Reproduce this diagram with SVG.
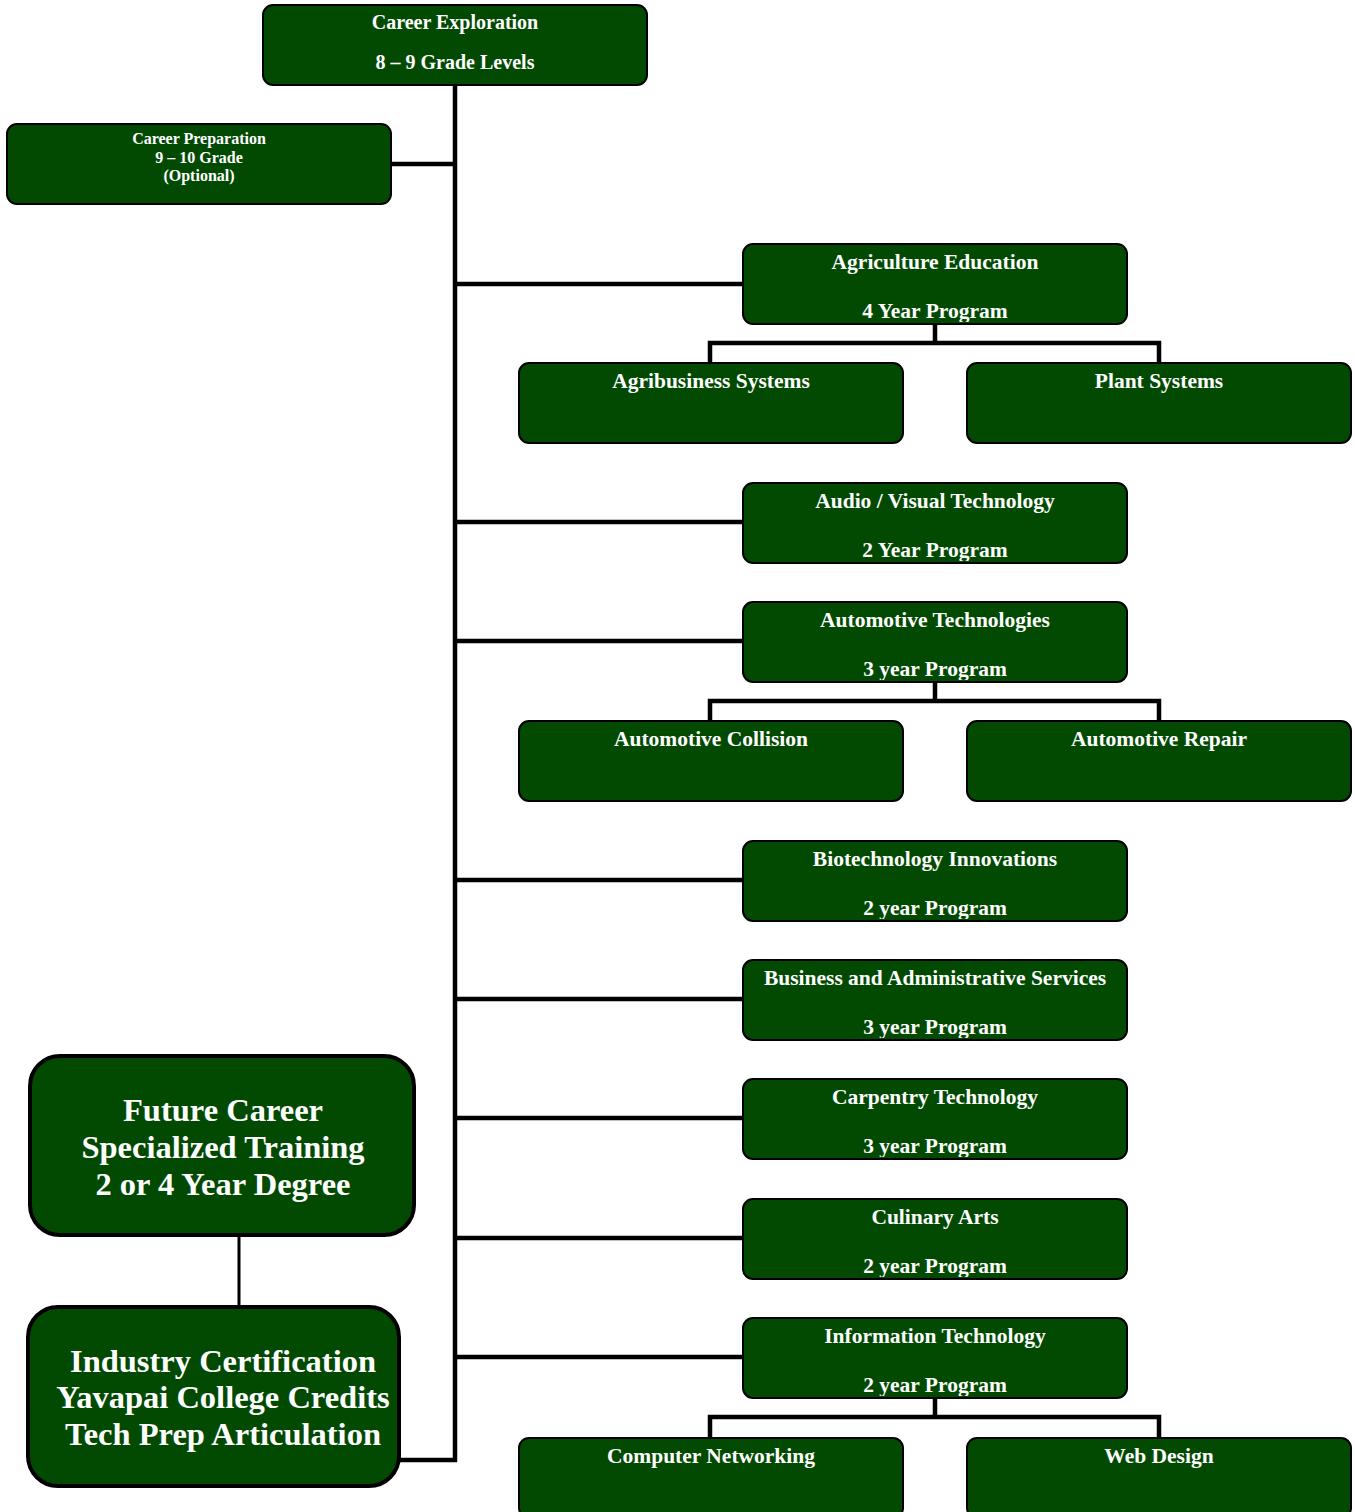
<svg xmlns="http://www.w3.org/2000/svg" width="1355" height="1512" viewBox="0 0 1355 1512">
<style>
.bx{fill:#024a02;stroke:#000;stroke-width:2}
.big{fill:#024a02;stroke:#000;stroke-width:4}
.t{font-family:"Liberation Serif","Times New Roman",serif;font-weight:bold;fill:#fff;text-anchor:middle}
.t20{font-size:20px}
.t21{font-size:21.5px}
.t16{font-size:16px}
.t32{font-size:32.5px}
.ln{stroke:#000;stroke-width:4.5;fill:none}
</style>
<defs>
<clipPath id="cp"><rect x="0" y="0" width="384" height="78"/></clipPath>
</defs>
<rect width="1355" height="1512" fill="#fff"/>
<g id="connectors">
<path class="ln" d="M455 85V1462M391 164H455M455 284H743M455 522H743M455 641H743M455 880H743M455 999H743M455 1118H743M455 1238H743M455 1357H743M399 1460H457"/>
<path class="ln" d="M935 324V343M710 363V343H1159V363"/>
<path class="ln" d="M935 682V701M710 721V701H1159V721"/>
<path class="ln" d="M935 1398V1417M710 1438V1417H1159V1438"/>
<path d="M239 1235V1306" stroke="#000" stroke-width="3"/>
</g>
<g id="career-exploration" transform="translate(263,5)">
<rect class="bx" x="0" y="0" width="384" height="80" rx="10"/>
<text class="t t20" x="192" y="24">Career Exploration</text>
<text class="t t20" x="192" y="64">8 – 9 Grade Levels</text>
</g>
<g id="career-preparation" transform="translate(7,124)">
<rect class="bx" x="0" y="0" width="384" height="80" rx="10"/>
<text class="t t16" x="192" y="20">Career Preparation</text>
<text class="t t16" x="192" y="38.5">9 – 10 Grade</text>
<text class="t t16" x="192" y="57">(Optional)</text>
</g>
<g id="agriculture-education" transform="translate(743,244)">
<rect class="bx" x="0" y="0" width="384" height="80" rx="10"/>
<text class="t t21" x="192" y="25">Agriculture Education</text>
<text class="t t21" x="192" y="74" clip-path="url(#cp)">4 Year Program</text>
</g>
<g id="agribusiness-systems" transform="translate(519,363)">
<rect class="bx" x="0" y="0" width="384" height="80" rx="10"/>
<text class="t t21" x="192" y="25">Agribusiness Systems</text>
</g>
<g id="plant-systems" transform="translate(967,363)">
<rect class="bx" x="0" y="0" width="384" height="80" rx="10"/>
<text class="t t21" x="192" y="25">Plant Systems</text>
</g>
<g id="audio-visual" transform="translate(743,483)">
<rect class="bx" x="0" y="0" width="384" height="80" rx="10"/>
<text class="t t21" x="192" y="25">Audio / Visual Technology</text>
<text class="t t21" x="192" y="74" clip-path="url(#cp)">2 Year Program</text>
</g>
<g id="automotive-technologies" transform="translate(743,602)">
<rect class="bx" x="0" y="0" width="384" height="80" rx="10"/>
<text class="t t21" x="192" y="25">Automotive Technologies</text>
<text class="t t21" x="192" y="74" clip-path="url(#cp)">3 year Program</text>
</g>
<g id="automotive-collision" transform="translate(519,721)">
<rect class="bx" x="0" y="0" width="384" height="80" rx="10"/>
<text class="t t21" x="192" y="25">Automotive Collision</text>
</g>
<g id="automotive-repair" transform="translate(967,721)">
<rect class="bx" x="0" y="0" width="384" height="80" rx="10"/>
<text class="t t21" x="192" y="25">Automotive Repair</text>
</g>
<g id="biotechnology" transform="translate(743,841)">
<rect class="bx" x="0" y="0" width="384" height="80" rx="10"/>
<text class="t t21" x="192" y="25">Biotechnology Innovations</text>
<text class="t t21" x="192" y="74" clip-path="url(#cp)">2 year Program</text>
</g>
<g id="business" transform="translate(743,960)">
<rect class="bx" x="0" y="0" width="384" height="80" rx="10"/>
<text class="t t21" x="192" y="25">Business and Administrative Services</text>
<text class="t t21" x="192" y="74" clip-path="url(#cp)">3 year Program</text>
</g>
<g id="carpentry" transform="translate(743,1079)">
<rect class="bx" x="0" y="0" width="384" height="80" rx="10"/>
<text class="t t21" x="192" y="25">Carpentry Technology</text>
<text class="t t21" x="192" y="74" clip-path="url(#cp)">3 year Program</text>
</g>
<g id="culinary" transform="translate(743,1199)">
<rect class="bx" x="0" y="0" width="384" height="80" rx="10"/>
<text class="t t21" x="192" y="25">Culinary Arts</text>
<text class="t t21" x="192" y="74" clip-path="url(#cp)">2 year Program</text>
</g>
<g id="information-technology" transform="translate(743,1318)">
<rect class="bx" x="0" y="0" width="384" height="80" rx="10"/>
<text class="t t21" x="192" y="25">Information Technology</text>
<text class="t t21" x="192" y="74" clip-path="url(#cp)">2 year Program</text>
</g>
<g id="computer-networking" transform="translate(519,1438)">
<rect class="bx" x="0" y="0" width="384" height="80" rx="10"/>
<text class="t t21" x="192" y="25">Computer Networking</text>
</g>
<g id="web-design" transform="translate(967,1438)">
<rect class="bx" x="0" y="0" width="384" height="80" rx="10"/>
<text class="t t21" x="192" y="25">Web Design</text>
</g>
<g id="future-career">
<rect class="big" x="30" y="1056" width="384" height="179" rx="30"/>
<text class="t t32" x="223" y="1121">Future Career</text>
<text class="t t32" x="223" y="1158">Specialized Training</text>
<text class="t t32" x="223" y="1195">2 or 4 Year Degree</text>
</g>
<g id="industry-certification">
<rect class="big" x="28" y="1307" width="371" height="179" rx="30"/>
<text class="t t32" x="223" y="1372">Industry Certification</text>
<text class="t t32" x="223" y="1408">Yavapai College Credits</text>
<text class="t t32" x="223" y="1445">Tech Prep Articulation</text>
</g>
</svg>
